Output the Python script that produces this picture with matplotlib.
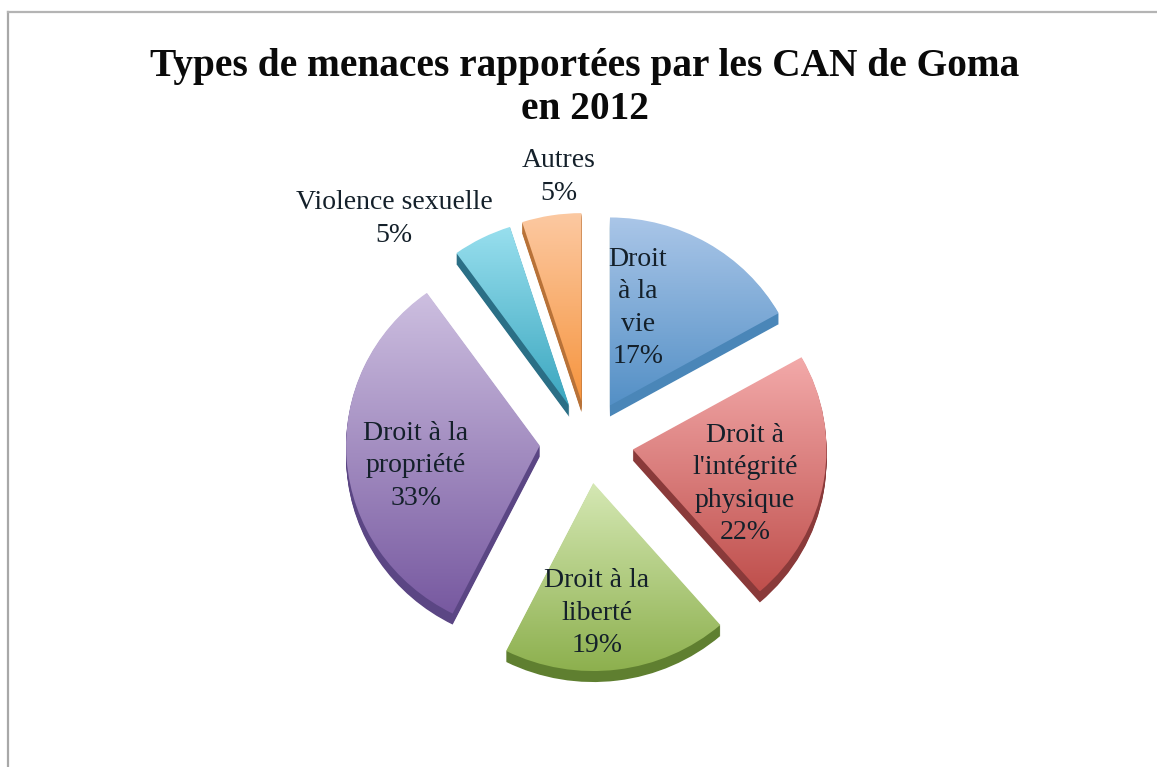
import numpy as np
import matplotlib
matplotlib.use("Agg")
import matplotlib.pyplot as plt
from matplotlib.colors import LinearSegmentedColormap
from matplotlib.lines import Line2D

title = "Types de menaces rapportées par les CAN de Goma\nen 2012"
labels = ["Droit\nà la\nvie", "Droit à\nl'intégrité\nphysique", "Droit à la\nliberté",
          "Droit à la\npropriété", "Violence sexuelle", "Autres"]
values = [17, 22, 19, 33, 5, 5]
explode = [0.225, 0.235, 0.22, 0.25, 0.215, 0.22]

top_colors = ["#aac6e8", "#f3aaaa", "#d5e8b4", "#cdbfe0", "#98dfee", "#fcc9a2"]
bottom_colors = ["#5490c6", "#bf4f4c", "#8db04e", "#7759a0", "#3aa6bf", "#f6953f"]
side_colors = ["#4a86b8", "#8a3a3a", "#5f7f30", "#5b4684", "#2b6f86", "#b87238"]

label_pos = [(638, 308), (745, 484), (597, 613), (416, 466), (394, 219), (559, 177)]

cx, cy = 588, 442
radius = 188
depth = 11
stretch = 1.03  # pie is a bit wider than tall in the original
# pie() takes explode in data units, not in radii
offsets = [e * radius for e in explode]

fig = plt.figure(figsize=(11.57, 7.67), dpi=100)
ax = fig.add_axes([0, 0, 1, 1])


def set_limits():
    ax.set_xlim(cx - cx / stretch, cx + (1157 - cx) / stretch)
    ax.set_ylim(767, 0)
    ax.set_aspect("auto")
    ax.axis("off")


# side of the slices, pile of dark pies going up to the top face
for d in range(depth, 0, -1):
    ax.pie(values, explode=offsets, colors=side_colors, center=(cx, cy + d), radius=radius,
           startangle=-90, counterclock=True, frame=True)

wedges, _ = ax.pie(values, explode=offsets, colors=["none"] * 6, center=(cx, cy), radius=radius,
                   startangle=-90, counterclock=True, frame=True)

ramp = np.linspace(0, 1, 256).reshape(-1, 1)
for w, c1, c2 in zip(wedges, top_colors, bottom_colors):
    box = w.get_path().get_extents()
    cmap = LinearSegmentedColormap.from_list("face", [c1, c2])
    im = ax.imshow(ramp, cmap=cmap, aspect="auto", origin="upper", zorder=3,
                   extent=(box.x0, box.x1, box.y1, box.y0))
    im.set_clip_path(w.get_path(), transform=ax.transData)

set_limits()

serif = "Liberation Serif"
fig.text(585 / 1157, 1 - 88 / 767, title, ha="center", va="center", fontsize=28.4,
         fontweight="bold", family=serif, color="#0a0a0a", linespacing=1.22)

for lab, val, (x, y) in zip(labels, values, label_pos):
    fig.text(x / 1157, 1 - y / 767, f"{lab}\n{val}%", ha="center", va="center", fontsize=20,
             family=serif, color="#14202a", linespacing=1.39, zorder=5)

fig.add_artist(Line2D([8 / 1157, 8 / 1157], [0, 1 - 12 / 767], color="#a8a8a8", lw=1.6))
fig.add_artist(Line2D([8 / 1157, 1], [1 - 12 / 767, 1 - 12 / 767], color="#b4b4b4", lw=1.6))

fig.savefig("out.png", dpi=100)
